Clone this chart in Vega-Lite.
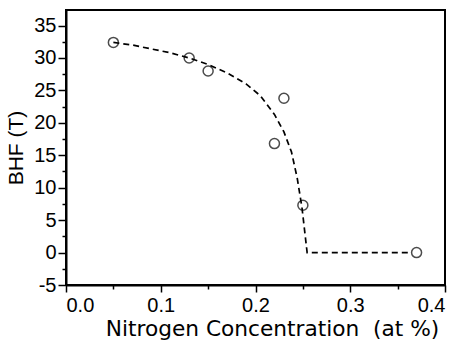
{
  "$schema": "https://vega.github.io/schema/vega-lite/v6.json",
  "width": 379,
  "height": 275,
  "autosize": {"type": "none"},
  "padding": {"left": 66, "top": 10, "right": 16, "bottom": 61},
  "background": "white",
  "config": {
    "view": {"stroke": "black", "strokeWidth": 2},
    "axis": {"grid": false, "domainColor": "black", "domainWidth": 2, "tickColor": "black", "tickWidth": 1.5, "labelColor": "black", "titleColor": "black", "labelFont": "Liberation Sans", "titleFont": "Liberation Sans", "titleFontWeight": "normal"}
  },
  "datasets": {
    "points": [
      {"x": 0.05, "y": 32.4},
      {"x": 0.13, "y": 30.0},
      {"x": 0.15, "y": 28.0},
      {"x": 0.22, "y": 16.8},
      {"x": 0.23, "y": 23.8},
      {"x": 0.25, "y": 7.3},
      {"x": 0.37, "y": 0.0}
    ],
    "curve": [
      {"x": 0.05, "y": 32.4},
      {"x": 0.07, "y": 32.0},
      {"x": 0.09, "y": 31.4},
      {"x": 0.11, "y": 30.8},
      {"x": 0.13, "y": 30.0},
      {"x": 0.15, "y": 29.0},
      {"x": 0.17, "y": 27.7},
      {"x": 0.19, "y": 26.0},
      {"x": 0.205, "y": 24.2},
      {"x": 0.22, "y": 21.3},
      {"x": 0.23, "y": 18.6},
      {"x": 0.238, "y": 15.5},
      {"x": 0.244, "y": 11.5},
      {"x": 0.249, "y": 7.0},
      {"x": 0.2545, "y": 0.0},
      {"x": 0.365, "y": 0.0}
    ]
  },
  "layer": [
    {
      "data": {"name": "curve"},
      "mark": {"type": "line", "color": "black", "strokeWidth": 1.7, "strokeDash": [6, 4]},
      "encoding": {
        "x": {"field": "x", "type": "quantitative", "scale": {"domain": [0, 0.4], "nice": false, "zero": false},
          "axis": {"orient": "bottom", "values": [0.05, 0.15, 0.25, 0.35], "labels": false, "domain": false, "tickSize": 4, "title": null}},
        "y": {"field": "y", "type": "quantitative", "scale": {"domain": [-5, 37.4], "nice": false, "zero": false},
          "axis": {"orient": "left", "values": [-2.5, 2.5, 7.5, 12.5, 17.5, 22.5, 27.5, 32.5], "labels": false, "domain": false, "tickSize": 4, "title": null}}
      }
    },
    {
      "data": {"name": "points"},
      "mark": {"type": "point", "shape": "circle", "filled": false, "color": "black", "size": 100, "strokeWidth": 1.5},
      "encoding": {
        "x": {"field": "x", "type": "quantitative", "scale": {"domain": [0, 0.4], "nice": false, "zero": false},
          "axis": {"orient": "bottom", "values": [0, 0.1, 0.2, 0.3, 0.4], "format": ".1f", "tickSize": 7, "labelFontSize": 20, "labelPadding": 3,
            "title": "Nitrogen Concentration\u00a0 (at %)", "titleFont": "DejaVu Sans", "titleFontSize": 21.7, "titlePadding": 3, "titleX": 206}},
        "y": {"field": "y", "type": "quantitative", "scale": {"domain": [-5, 37.4], "nice": false, "zero": false},
          "axis": {"orient": "left", "values": [-5, 0, 5, 10, 15, 20, 25, 30, 35], "labelExpr": "'' + datum.value", "tickSize": 8, "labelFontSize": 20, "labelPadding": 2,
            "title": "BHF (T)", "titleFontSize": 21, "titlePadding": 7}}
      }
    }
  ],
  "resolve": {"axis": {"x": "independent", "y": "independent"}}
}
